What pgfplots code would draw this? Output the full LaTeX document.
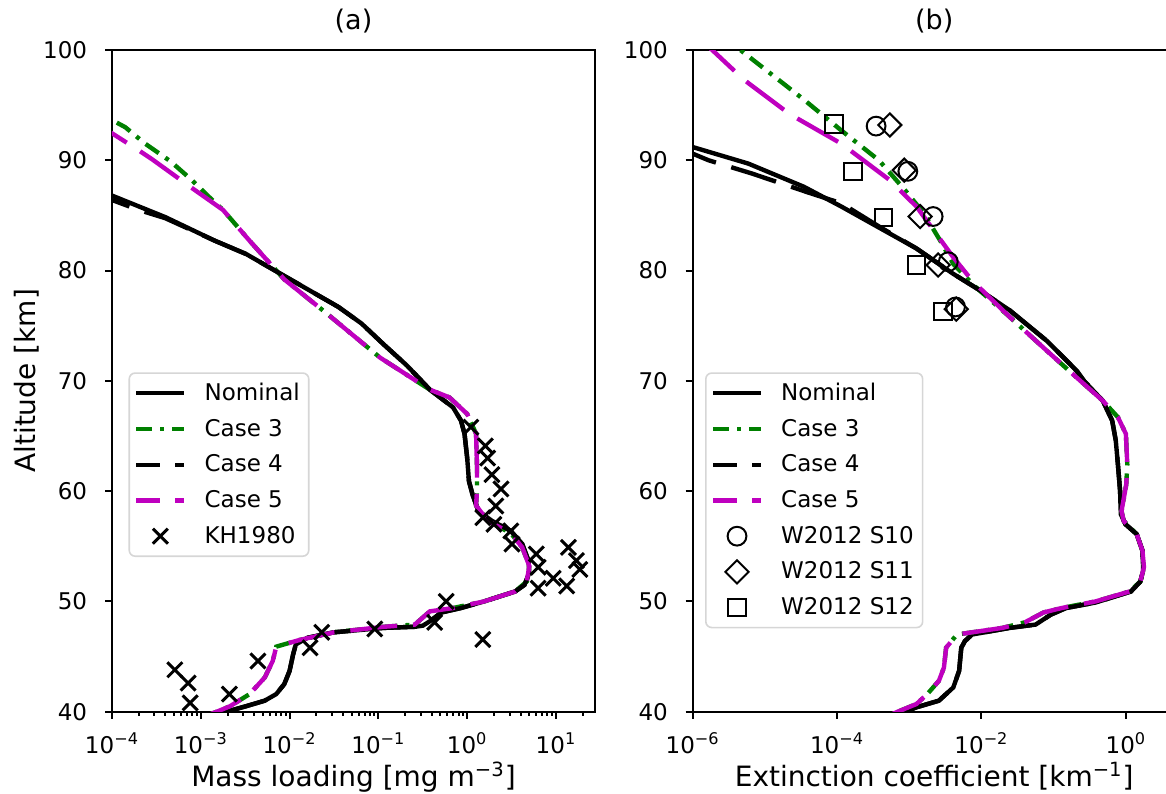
\documentclass[border=0pt]{standalone}
\usepackage{pgfplots}
\pgfplotsset{compat=1.18}
\usepackage{fontspec}
\setmainfont{DejaVu Sans}
\definecolor{mplgreen}{rgb}{0,0.5,0}
\definecolor{mplmag}{rgb}{0.75,0,0.75}
\definecolor{legframe}{rgb}{0.84,0.84,0.84}
\tikzset{
  nom/.style={black, line width=2.2pt},
  c3/.style={mplgreen, line width=2.2pt, dash pattern=on 8pt off 4pt on 2pt off 4pt},
  c4/.style={black, line width=2.2pt, dash pattern=on 23.5pt off 8pt},
  c5/.style={mplmag, line width=2.2pt, dash pattern=on 23.5pt off 8pt},
}
\pgfplotsset{
  lineleg/.style={legend image code/.code={\draw[##1] (0pt,0pt) -- (24pt,0pt);}},
  dashleg/.style={legend image code/.code={\draw[##1, dash pattern=on 12pt off 7.5pt] (0pt,0pt) -- (24pt,0pt);}},
  markleg/.style={legend image code/.code={\draw[mark repeat=2,mark phase=2,##1] plot coordinates {(0pt,0pt) (12pt,0pt) (24pt,0pt)};}},
}
\begin{document}
\begin{tikzpicture}
% ---------------- Panel (a) ----------------
\begin{axis}[at={(0pt,0pt)}, anchor=south west,
  scale only axis, width=241.5pt, height=330.85pt,
  xmode=log, ymin=40, ymax=100, ytick={40,50,60,70,80,90,100},
  xtick pos=left, ytick pos=left,
  tick align=outside, major tick length=3.5pt, minor tick length=2pt,
  tick style={black, line width=1pt},
  axis line style={line width=1.2pt},
  tick label style={font=\fontsize{11.5}{13.8}\selectfont},
  yticklabels={40,50,60,70,80,90,100},
  yticklabel style={xshift=-5.4pt},
  xticklabel style={anchor=base, yshift=-17.25pt},
  label style={font=\fontsize{14}{16.8}\selectfont},
  title style={font=\fontsize{13.5}{16}\selectfont, at={(axis description cs:0.5,1.0136)}, anchor=base},
  xlabel style={at={(axis description cs:0.5,-0.1133)}, anchor=base},
  legend cell align=left,
  legend style={anchor=north west, draw=legframe, line width=0.8pt, rounded corners=3pt,
    fill=white,
    font=\fontsize{11.5}{13.8}\selectfont, row sep=3.8pt,
    inner xsep=2.5pt, inner ysep=3pt, nodes={inner sep=2pt},
    /tikz/every odd column/.append style={column sep=7pt},
    at={(axis description cs:0.034,0.513)}},
  xmin=1e-4, xmax=27.5,
  xtick={1e-4,1e-3,1e-2,1e-1,1,10},
  xticklabels={10\textsuperscript{−4},10\textsuperscript{−3},10\textsuperscript{−2},10\textsuperscript{−1},10\textsuperscript{0},10\textsuperscript{1}},
  minor xtick={2e-4,3e-4,4e-4,5e-4,6e-4,7e-4,8e-4,9e-4,2e-3,3e-3,4e-3,5e-3,6e-3,7e-3,8e-3,9e-3,0.02,0.03,0.04,0.05,0.06,0.07,0.08,0.09,0.2,0.3,0.4,0.5,0.6,0.7,0.8,0.9,2,3,4,5,6,7,8,9,20},
  title={(a)}, xlabel={Mass loading [mg m\textsuperscript{−3}]},
  ylabel={Altitude [km]},
  ylabel style={at={(axis description cs:-0.1594,0.5)}, anchor=base},
]
\addplot[nom, lineleg] coordinates {(5.01e-5,87.7) (1e-4,86.8) (3.98e-4,84.85) (1.445e-3,82.7) (3.24e-3,81.5) (5.89e-3,80.3) (0.01072,79.1) (0.01950,77.9) (0.03548,76.7) (0.06457,75.2) (0.1148,73.3) (0.2089,71.4) (0.3802,69.2) (0.6918,67.6) (0.8511,66.4) (0.9333,65.2) (1.0,63.0) (1.047,60.9) (1.148,59.7) (1.334,58.2) (1.905,57.3) (3.090,56.4) (4.169,55.2) (4.898,53.7) (5.012,52.6) (4.416,51.5) (3.467,50.9) (1.549,50.0) (0.8511,49.4) (0.5129,49.0) (0.3802,48.2) (0.3162,47.8) (0.2570,47.7) (0.1148,47.6) (0.03162,47.2) (0.01585,46.7) (0.01175,46.1) (0.01096,45.2) (0.01,43.7) (8.71e-3,42.5) (7.08e-3,41.6) (5.25e-3,41.0) (3.24e-3,40.5) (1.95e-3,40.0) (1.41e-3,39.6)};
\addlegendentry{Nominal}
\addplot[c3, lineleg] coordinates {(5.01e-5,95.0) (1e-4,93.65) (1.41e-4,93.0) (2.37e-4,91.5) (4.57e-4,89.9) (7.94e-4,88.2) (1.23e-3,86.7) (1.778e-3,85.5) (3.548e-3,82.7) (8.71e-3,79.2) (0.0263,76.1) (0.1047,72.1) (0.3802,69.2) (0.631,68.5) (1.0,67.0) (1.259,65.2) (1.288,62.4) (1.288,60.0) (1.259,58.7) (1.698,57.3) (3.090,56.2) (4.169,54.9) (5.012,53.2) (4.677,51.8) (3.467,50.9) (1.549,50.0) (0.6918,49.4) (0.3802,49.1) (0.2570,47.9) (0.1148,47.7) (0.03162,47.2) (0.01288,46.5) (7.08e-3,45.9) (6.46e-3,44.6) (5.25e-3,43.1) (3.548e-3,41.6) (2.138e-3,40.5) (1.514e-3,40.0) (1.122e-3,39.6)};
\addlegendentry{Case 3}
\addplot[c4, dashleg] coordinates {(5.01e-5,87.3) (1e-4,86.4) (1.995e-4,85.5) (3.98e-4,84.75) (1.445e-3,82.7) (3.24e-3,81.5) (5.89e-3,80.3) (0.01072,79.1) (0.01950,77.9) (0.03548,76.7) (0.06457,75.2) (0.1148,73.3) (0.2089,71.4) (0.3802,69.2) (0.6918,67.6) (0.8511,66.4) (0.9333,65.2) (1.0,63.0) (1.047,60.9) (1.148,59.7) (1.334,58.2) (1.905,57.3) (3.090,56.4) (4.169,55.2) (4.898,53.7) (5.012,52.6) (4.416,51.5) (3.467,50.9) (1.549,50.0) (0.8511,49.4) (0.5129,49.0) (0.3802,48.2) (0.3162,47.8) (0.2570,47.7) (0.1148,47.6) (0.03162,47.2) (0.01585,46.7) (0.01175,46.1) (0.01096,45.2) (0.01,43.7) (8.71e-3,42.5) (7.08e-3,41.6) (5.25e-3,41.0) (3.24e-3,40.5) (1.95e-3,40.0) (1.41e-3,39.6)};
\addlegendentry{Case 4}
\addplot[c5, dashleg] coordinates {(5.01e-5,93.6) (1e-4,92.45) (2.0e-4,90.9) (2.82e-4,90.1) (7.59e-4,87.6) (1.778e-3,85.5) (3.548e-3,82.7) (8.71e-3,79.2) (0.0263,76.1) (0.1047,72.1) (0.3802,69.2) (0.631,68.5) (1.0,67.0) (1.259,65.2) (1.288,62.4) (1.288,60.0) (1.259,58.7) (1.698,57.3) (3.090,56.2) (4.169,54.9) (5.012,53.2) (4.677,51.8) (3.467,50.9) (1.549,50.0) (0.6918,49.4) (0.3802,49.1) (0.2570,47.9) (0.1148,47.7) (0.03162,47.2) (0.01288,46.5) (7.08e-3,45.9) (6.46e-3,44.6) (5.25e-3,43.1) (3.548e-3,41.6) (2.138e-3,40.5) (1.514e-3,40.0) (1.122e-3,39.6)};
\addlegendentry{Case 5}
\addplot[only marks, black, mark=x, mark size=5.3pt, mark options={line width=1.5pt}, markleg] coordinates {(1.1,65.8) (1.6,64.1) (1.7,63.0) (1.9,61.5) (2.4,60.2) (2.1,58.65) (1.5,57.6) (2.0,57.0) (3.1,56.4) (3.2,55.2) (6.0,54.3) (6.3,53.1) (6.3,51.2) (9.3,52.1) (13.8,54.9) (17.0,53.7) (18.6,52.9) (13.2,51.4) (0.58,50.0) (0.43,48.1) (1.5,46.55) (0.091,47.5) (0.023,47.2) (0.017,45.8) (0.0044,44.6) (5.1e-4,43.8) (7.2e-4,42.6) (7.6e-4,40.8) (2.1e-3,41.6)};
\addlegendentry{KH1980}
\end{axis}
% ---------------- Panel (b) ----------------
\begin{axis}[at={(290.35pt,0pt)}, anchor=south west,
  scale only axis, width=241.5pt, height=330.85pt,
  xmode=log, ymin=40, ymax=100, ytick={40,50,60,70,80,90,100},
  xtick pos=left, ytick pos=left,
  tick align=outside, major tick length=3.5pt, minor tick length=2pt,
  tick style={black, line width=1pt},
  axis line style={line width=1.2pt},
  tick label style={font=\fontsize{11.5}{13.8}\selectfont},
  yticklabels={40,50,60,70,80,90,100},
  yticklabel style={xshift=-5.4pt},
  xticklabel style={anchor=base, yshift=-17.25pt},
  label style={font=\fontsize{14}{16.8}\selectfont},
  title style={font=\fontsize{13.5}{16}\selectfont, at={(axis description cs:0.5,1.0136)}, anchor=base},
  xlabel style={at={(axis description cs:0.5,-0.1133)}, anchor=base},
  legend cell align=left,
  legend style={anchor=north west, draw=legframe, line width=0.8pt, rounded corners=3pt,
    fill=white,
    font=\fontsize{11.5}{13.8}\selectfont, row sep=3.8pt,
    inner xsep=2.5pt, inner ysep=3pt, nodes={inner sep=2pt},
    /tikz/every odd column/.append style={column sep=7pt},
    at={(axis description cs:0.0255,0.513)}},
  xmin=1e-6, xmax=4.9,
  xtick={1e-6,1e-4,1e-2,1},
  xticklabels={10\textsuperscript{−6},10\textsuperscript{−4},10\textsuperscript{−2},10\textsuperscript{0}},
  title={(b)}, xlabel={Extinction coefficient [km\textsuperscript{−1}]},
]
\addplot[nom, lineleg] coordinates {(5.01e-7,91.8) (1e-6,91.2) (5.89e-6,89.7) (3.467e-5,87.6) (1.148e-4,85.8) (3.80e-4,83.9) (1.259e-3,82.0) (4.07e-3,79.7) (9.55e-3,78.2) (0.02455,76.4) (0.08128,73.6) (0.2089,70.9) (0.2630,70.0) (0.4786,68.2) (0.6457,66.4) (0.7244,64.6) (0.7762,62.4) (0.8318,60.0) (0.8511,57.9) (0.9863,57.0) (1.413,56.1) (1.698,54.6) (1.738,52.8) (1.585,51.8) (1.175,50.9) (0.3802,49.9) (0.1479,49.4) (0.0912,48.8) (0.05623,47.9) (0.02455,47.6) (7.41e-3,47.0) (5.89e-3,46.4) (5.25e-3,45.8) (4.90e-3,43.7) (4.07e-3,42.2) (2.57e-3,41.0) (1.259e-3,40.4) (8.71e-4,40.0) (6.31e-4,39.6)};
\addlegendentry{Nominal}
\addplot[c3, lineleg] coordinates {(2.51e-6,101.3) (4.57e-6,100) (1.349e-5,97.6) (3.467e-5,95.5) (1.148e-4,92.7) (3.80e-4,90.0) (8.71e-4,87.3) (1.585e-3,85.2) (2.69e-3,82.7) (4.07e-3,80.6) (8.32e-3,78.5) (0.02455,75.8) (0.08128,72.7) (0.2344,70.0) (0.4786,68.2) (0.7762,66.7) (1.0,65.2) (1.047,62.4) (1.012,60.6) (0.871,58.2) (0.933,57.3) (1.413,56.1) (1.698,54.6) (1.778,53.1) (1.585,51.8) (1.122,50.9) (0.3802,50.0) (0.1288,49.4) (0.0724,49.0) (0.0398,48.1) (0.0195,47.6) (4.57e-3,47.0) (3.236e-3,45.8) (3.02e-3,44.0) (2.57e-3,42.8) (1.778e-3,41.6) (1.259e-3,40.7) (6.92e-4,40.0) (5.01e-4,39.6)};
\addlegendentry{Case 3}
\addplot[c4, dashleg] coordinates {(5.01e-7,91.0) (1e-6,90.6) (1.66e-6,90.0) (6.61e-6,88.8) (3.89e-5,87.1) (1.148e-4,86.1) (3.80e-4,84.0) (1.259e-3,82.0) (4.07e-3,79.7) (9.55e-3,78.2) (0.02455,76.4) (0.08128,73.6) (0.2089,70.9) (0.2630,70.0) (0.4786,68.2) (0.6457,66.4) (0.7244,64.6) (0.7762,62.4) (0.8318,60.0) (0.8511,57.9) (0.9863,57.0) (1.413,56.1) (1.698,54.6) (1.738,52.8) (1.585,51.8) (1.175,50.9) (0.3802,49.9) (0.1479,49.4) (0.0912,48.8) (0.05623,47.9) (0.02455,47.6) (7.41e-3,47.0) (5.89e-3,46.4) (5.25e-3,45.8) (4.90e-3,43.7) (4.07e-3,42.2) (2.57e-3,41.0) (1.259e-3,40.4) (8.71e-4,40.0) (6.31e-4,39.6)};
\addlegendentry{Case 4}
\addplot[c5, dashleg] coordinates {(1.259e-6,101.0) (1.862e-6,100) (5.13e-6,97.3) (2.188e-5,94.2) (1.148e-4,91.5) (5.37e-4,88.2) (1.259e-3,85.8) (2.57e-3,83.0) (4.07e-3,81.2) (7.41e-3,79.1) (0.02455,75.8) (0.08128,72.7) (0.2344,70.0) (0.4786,68.2) (0.7762,66.7) (1.0,65.2) (1.047,62.4) (1.012,60.6) (0.871,58.2) (0.933,57.3) (1.413,56.1) (1.698,54.6) (1.778,53.1) (1.585,51.8) (1.122,50.9) (0.3802,50.0) (0.1288,49.4) (0.0724,49.0) (0.0398,48.1) (0.0195,47.6) (4.57e-3,47.0) (3.236e-3,45.8) (3.02e-3,44.0) (2.57e-3,42.8) (1.778e-3,41.6) (1.259e-3,40.7) (6.92e-4,40.0) (5.01e-4,39.6)};
\addlegendentry{Case 5}
\addplot[only marks, black, mark=o, mark size=4.7pt, mark options={line width=1pt}, markleg] coordinates {(3.47e-4,93.1) (9.55e-4,89.0) (2.14e-3,84.9) (3.47e-3,80.8) (4.37e-3,76.7)};
\addlegendentry{W2012 S10}
\addplot[only marks, black, mark=square, mark size=4.1pt, mark options={line width=1pt, rotate=45}, markleg] coordinates {(5.37e-4,93.2) (8.51e-4,89.1) (1.413e-3,84.9) (2.51e-3,80.5) (4.47e-3,76.5)};
\addlegendentry{W2012 S11}
\addplot[only marks, black, mark=square, mark size=4.4pt, mark options={line width=1pt}, markleg] coordinates {(9.12e-5,93.3) (1.66e-4,89.0) (4.37e-4,84.8) (1.259e-3,80.5) (2.95e-3,76.3)};
\addlegendentry{W2012 S12}
\end{axis}
\pgfresetboundingbox
\path[use as bounding box] (-56pt,-40.65pt) rectangle (527pt,355.85pt);
\end{tikzpicture}
\end{document}
